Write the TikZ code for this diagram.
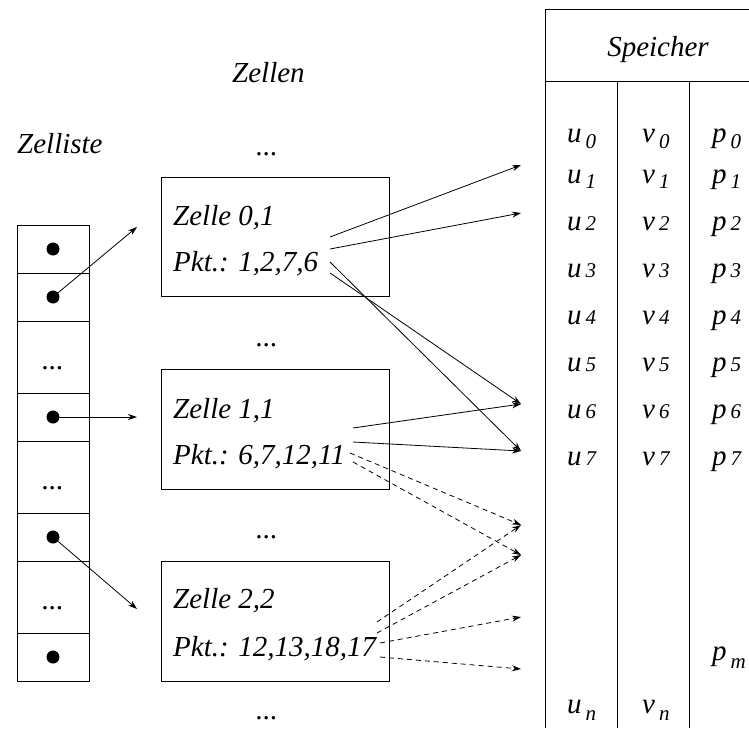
\documentclass[tikz,border=0pt]{standalone}
\usepackage{fontspec}
\setmainfont{Liberation Serif}
\usetikzlibrary{arrows.meta}
\newcommand\tabent[3]{#1\kern4pt\raisebox{-#3pt}{\fontsize{21}{21}\selectfont #2}}
\begin{document}
\begin{tikzpicture}[x=1pt,y=-1pt,
  txt/.style={font=\fontsize{29}{34}\selectfont\itshape, inner sep=0pt},
  cellbox/.style={draw, line width=0.9pt, inner sep=0pt},
  dotnode/.style={circle, fill, inner sep=0pt, minimum size=13pt},
  arr/.style={line width=0.8pt, -{Stealth[length=9pt,width=6pt]}},
  darr/.style={arr, dash pattern=on 5pt off 4pt},
  tline/.style={line width=0.9pt},
]
\useasboundingbox (0,0) rectangle (749,728);

% headings
\node[txt, anchor=base west] (zellen) at (232,82) {Zellen};
\node[txt, anchor=base west] (zelliste) at (17,153) {Zelliste};

% Zelliste cells
\node[cellbox, minimum width=72pt, minimum height=48pt] (l1) at (53,249) {};
\node[cellbox, minimum width=72pt, minimum height=48pt] (l2) at (53,297) {};
\node[cellbox, minimum width=72pt, minimum height=72pt] (l3) at (53,357) {};
\node[cellbox, minimum width=72pt, minimum height=48pt] (l4) at (53,417) {};
\node[cellbox, minimum width=72pt, minimum height=72pt] (l5) at (53,477) {};
\node[cellbox, minimum width=72pt, minimum height=48pt] (l6) at (53,537) {};
\node[cellbox, minimum width=72pt, minimum height=72pt] (l7) at (53,597) {};
\node[cellbox, minimum width=72pt, minimum height=48pt] (l8) at (53,657) {};
\node[dotnode] (d1) at (l1) {};
\node[dotnode] (d2) at (l2) {};
\node[dotnode] (d4) at (l4) {};
\node[dotnode] (d6) at (l6) {};
\node[dotnode] (d8) at (l8) {};
\node[txt, anchor=base] (ld3) at (53,369) {...};
\node[txt, anchor=base] (ld5) at (53,489) {...};
\node[txt, anchor=base] (ld7) at (53,609) {...};

% Zellen boxes
\node[cellbox, minimum width=228pt, minimum height=119pt] (z1) at (275,236.5) {};
\node[cellbox, minimum width=228pt, minimum height=120pt] (z2) at (275,429) {};
\node[cellbox, minimum width=228pt, minimum height=120pt] (z3) at (275,621) {};
\node[txt, anchor=base west] (z1a) at (173,225) {Zelle 0,1};
\node[txt, anchor=base west] (z1b) at (173,271) {Pkt.: 1,2,7,6};
\node[txt, anchor=base west] (z2a) at (173,418) {Zelle 1,1};
\node[txt, anchor=base west] (z2b) at (173,464) {Pkt.: 6,7,12,11};
\node[txt, anchor=base west] (z3a) at (173,608) {Zelle 2,2};
\node[txt, anchor=base west] (z3b) at (173,656) {Pkt.: 12,13,18,17};
\node[txt, anchor=base] (zd0) at (267,155) {...};
\node[txt, anchor=base] (zd1) at (267,346) {...};
\node[txt, anchor=base] (zd2) at (267,538) {...};
\node[txt, anchor=base] (zd3) at (267,719) {...};

% arrows from list to cells
\coordinate (e1) at (137,227);
\coordinate (e2) at (137,417);
\coordinate (e3) at (137,609);
\draw[arr] (d2.center) -- (e1);
\draw[arr] (d4.center) -- (e2);
\draw[arr] (d6.center) -- (e3);

% Speicher table
\draw[tline] (749,9) -- (545,9) -- (545,728);
\draw[tline] (545,81) -- (749,81);
\draw[tline] (617,81) -- (617,728);
\draw[tline] (689,81) -- (689,728);
\node[txt, anchor=base] (sp) at (658,56) {Speicher};

% table entries
\foreach \r/\b/\l in {0/142/6,1/183/5,2/230/0,3/277/0,4/324/0,5/371/0,6/418/0,7/465/0}{
  \node[txt, anchor=base west] (u\r) at (567,\b) {\tabent{u}{\r}{\l}};
  \node[txt, anchor=base west] (v\r) at (642,\b) {\tabent{v}{\r}{\l}};
  \node[txt, anchor=base west] (p\r) at (712,\b) {\tabent{p}{\r}{\l}};
}
\node[txt, anchor=base west] (pm) at (712,660) {\tabent{p}{m}{8}};
\node[txt, anchor=base west] (un) at (567,713) {\tabent{u}{n}{7}};
\node[txt, anchor=base west] (vn) at (642,713) {\tabent{v}{n}{7}};

% arrow targets
\coordinate (t1) at (521,165);
\coordinate (t2) at (521,213);
\coordinate (t3) at (521,404);
\coordinate (t4) at (521,451);
\coordinate (t5) at (521,525);
\coordinate (t6) at (521,555);
\coordinate (t7) at (521,617);
\coordinate (t8) at (521,669);

% arrow starts
\coordinate (s11) at (330,237);
\coordinate (s12) at (330,249);
\coordinate (s13) at (330,262);
\coordinate (s14) at (330,273);
\coordinate (s21) at (353,428);
\coordinate (s22) at (353,442);
\coordinate (s23) at (350,453);
\coordinate (s24) at (353,462);
\coordinate (s31) at (377,622);
\coordinate (s32) at (377,633);
\coordinate (s33) at (380,643);
\coordinate (s34) at (380,657);

\draw[arr] (s11) -- (t1);
\draw[arr] (s12) -- (t2);
\draw[arr] (s13) -- (t4);
\draw[arr] (s14) -- (t3);
\draw[arr] (s21) -- (t3);
\draw[arr] (s22) -- (t4);
\draw[darr] (s23) -- (t5);
\draw[darr] (s24) -- (t6);
\draw[darr] (s31) -- (t5);
\draw[darr] (s32) -- (t6);
\draw[darr] (s33) -- (t7);
\draw[darr] (s34) -- (t8);
\end{tikzpicture}
\end{document}
